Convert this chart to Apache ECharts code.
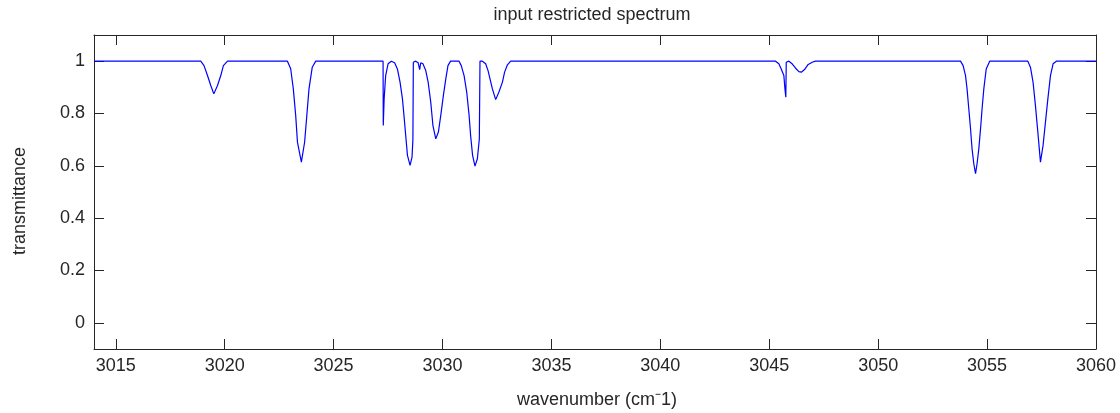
<!DOCTYPE html>
<html>
<head>
<meta charset="utf-8">
<script src="https://cdn.jsdelivr.net/npm/echarts@6/dist/echarts.min.js"></script>
<style>
html,body{margin:0;padding:0;background:#fff;}
#chart{width:1120px;height:413px;}
</style>
</head>
<body>
<div id="chart"></div>
<script>
const waveNumbers = [
3014,
3018.90,3019.05,3019.21,3019.36,3019.50,3019.67,3019.82,3019.94,3020.13,
3022.88,3023.03,3023.15,3023.26,3023.34,3023.52,3023.67,3023.77,3023.87,3024.02,3024.18,
3027.27,3027.28,3027.32,3027.39,3027.50,3027.65,3027.80,3027.93,3028.05,3028.16,3028.23,3028.31,3028.39,3028.51,3028.60,3028.64,3028.66,
3028.77,3028.88,3028.95,3029.00,3029.10,3029.23,3029.34,3029.46,3029.56,3029.69,3029.81,3029.92,3030.04,3030.15,3030.25,3030.37,
3030.76,3030.86,3030.99,3031.11,3031.22,3031.29,3031.38,3031.49,3031.60,3031.69,3031.72,
3031.83,3031.98,3032.09,3032.18,3032.29,3032.44,3032.59,3032.75,3032.85,3032.98,3033.13,
3045.29,3045.44,3045.55,3045.67,3045.72,3045.76,3045.78,3045.90,3046.05,3046.21,3046.36,3046.47,3046.62,3046.77,3046.97,3047.12,
3053.78,3053.90,3054.01,3054.08,3054.16,3054.24,3054.31,3054.39,3054.47,3054.54,3054.62,3054.70,3054.77,3054.85,3054.96,3055.12,
3056.87,3056.99,3057.11,3057.22,3057.33,3057.45,3057.57,3057.68,3057.79,3057.91,3058.03,3058.18,
3060
];
const transmittance = [
1,
1,0.983,0.945,0.907,0.875,0.907,0.945,0.983,1,
1,0.971,0.894,0.792,0.691,0.614,0.691,0.792,0.894,0.977,1,
1,0.754,0.856,0.945,0.99,1,0.994,0.97,0.92,0.856,0.793,0.716,0.64,0.602,0.633,0.70,0.996,
1,0.994,0.968,0.994,0.99,0.964,0.92,0.843,0.754,0.703,0.729,0.793,0.869,0.932,0.983,1,
1,0.983,0.945,0.882,0.793,0.716,0.64,0.599,0.627,0.703,1,
1,0.99,0.964,0.932,0.894,0.853,0.882,0.92,0.958,0.986,1,
1,0.99,0.97,0.945,0.894,0.862,0.996,1,0.99,0.973,0.96,0.958,0.968,0.986,0.996,1,
1,0.983,0.945,0.894,0.818,0.742,0.665,0.608,0.570,0.608,0.665,0.742,0.818,0.894,0.97,1,
1,0.977,0.92,0.83,0.729,0.614,0.678,0.767,0.856,0.945,0.99,1,
1
];
const xTicks = [3015,3020,3025,3030,3035,3040,3045,3050,3055,3060];
const yTicks = [0,0.2,0.4,0.6,0.8,1];
const titleText = 'input restricted spectrum';
const xLabelText = 'wavenumber (cm\u207B1)';
const yLabelText = 'transmittance';

const seriesData = waveNumbers.map((x, i) => [x, transmittance[i]]);
const axisColor = '#262626';
const font = 'Liberation Sans, Arial, sans-serif';
const fs = 18;

const chart = echarts.init(document.getElementById('chart'), null, {renderer: 'canvas'});
const baseX = {
  type: 'value', min: 3014, max: 3060,
  axisLine: {show: true, onZero: false, lineStyle: {color: axisColor, width: 1}},
  splitLine: {show: false},
  axisTick: {show: true, inside: true, length: 10, customValues: xTicks, lineStyle: {color: axisColor}},
};
const baseY = {
  type: 'value', min: -0.1, max: 1.1,
  axisLine: {show: true, onZero: false, lineStyle: {color: axisColor, width: 1}},
  splitLine: {show: false},
  axisTick: {show: true, inside: true, length: 10, customValues: yTicks, lineStyle: {color: axisColor}},
};
chart.setOption({
  animation: false,
  backgroundColor: '#fff',
  grid: {left: 94, right: 24, top: 35, bottom: 64, containLabel: false},
  xAxis: [
    Object.assign({}, baseX, {position: 'bottom',
      axisLabel: {show: true, customValues: xTicks, margin: 8, color: axisColor, fontSize: fs, fontFamily: font,
        formatter: v => String(v)}}),
    Object.assign({}, baseX, {position: 'top', axisLabel: {show: false}})
  ],
  yAxis: [
    Object.assign({}, baseY, {position: 'left',
      axisLabel: {show: true, customValues: yTicks, margin: 9, color: axisColor, fontSize: fs, fontFamily: font,
        formatter: v => String(+v.toFixed(1))}}),
    Object.assign({}, baseY, {position: 'right', axisLabel: {show: false}})
  ],
  graphic: [
    {type: 'text', x: 592, y: 15, style: {text: titleText, fill: axisColor, fontSize: fs, fontFamily: font, align: 'center', verticalAlign: 'middle'}},
    {type: 'text', x: 597, y: 400, style: {text: xLabelText, fill: axisColor, fontSize: fs, fontFamily: font, align: 'center', verticalAlign: 'middle'}},
    {type: 'text', x: 20, y: 201, rotation: Math.PI/2, style: {text: yLabelText, fill: axisColor, fontSize: fs, fontFamily: font, align: 'center', verticalAlign: 'middle'}}
  ],
  series: [{
    type: 'line', xAxisIndex: 0, yAxisIndex: 0,
    data: seriesData, showSymbol: false, symbol: 'none',
    lineStyle: {color: '#0000ff', width: 1.2},
    clip: true
  }]
});
</script>
</body>
</html>
